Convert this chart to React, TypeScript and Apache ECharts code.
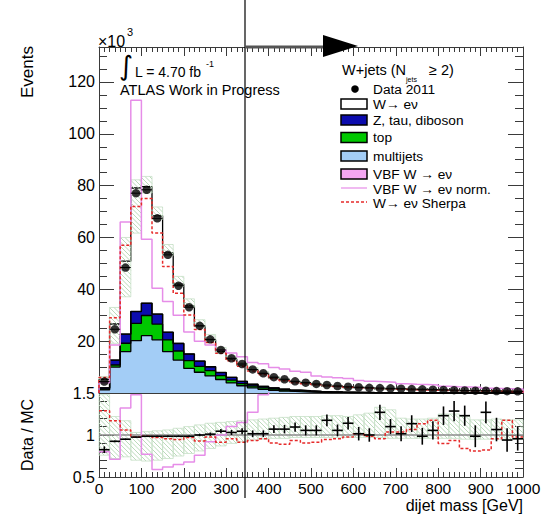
import React, { useEffect, useRef } from 'react';
import * as echarts from 'echarts';

// dijet mass binning: 25 GeV bins from 0 to 1000 GeV
const BIN_WIDTH = 25;

// events per bin, in units of 10^3
const dataEvents = [4.4, 24.6, 48.4, 77.1, 78.4, 67.4, 53.3, 41.4, 33.1, 25.9, 20.7, 16.6, 13.4, 11.2, 9.1, 7.6, 6.1, 5.3, 4.5, 4.0, 3.5, 3.1, 2.7, 2.4, 2.2, 2.0, 1.9, 1.8, 1.65, 1.5, 1.4, 1.3, 1.2, 1.1, 1.0, 0.9, 0.85, 0.75, 0.7, 0.65];
const wenu = [3.3, 13.9, 28.1, 47.6, 44.9, 37.9, 30.6, 22.9, 18.6, 13.6, 10.4, 8.0, 7.0, 6.2, 5.6, 5.0, 3.8, 3.45, 3.0, 2.9, 2.6, 2.1, 2.2, 1.8, 1.9, 1.8, 1.34, 1.5, 1.5, 1.23, 1.34, 1.16, 0.91, 0.81, 0.76, 0.86, 0.63, 0.66, 0.7, 0.64];
const zTauDiboson = [0.5, 1.9, 3.5, 4.5, 4.7, 3.8, 2.9, 2.9, 2.5, 2.0, 1.5, 1.2, 1.0, 0.8, 0.65, 0.5, 0.42, 0.35, 0.3, 0.25, 0.2, 0.17, 0.14, 0.12, 0.1, 0.09, 0.08, 0.07, 0.06, 0.05, 0.05, 0.04, 0.04, 0.03, 0.03, 0.03, 0.02, 0.02, 0.02, 0.02];
const topQuark = [0.3, 0.8, 3.2, 6.7, 7.8, 6.1, 4.5, 3.5, 3.0, 2.3, 2.0, 1.5, 1.1, 0.85, 0.7, 0.6, 0.5, 0.4, 0.3, 0.25, 0.2, 0.15, 0.12, 0.1, 0.08, 0.06, 0.05, 0.04, 0.03, 0.03, 0.02, 0.02, 0.02, 0.01, 0.01, 0.01, 0.01, 0.01, 0.01, 0.01];
const multijets = [1.2, 10.0, 16.0, 20.2, 22.1, 20.5, 16.0, 12.7, 9.5, 8.0, 6.6, 5.2, 3.9, 2.8, 2.0, 1.4, 1.0, 0.7, 0.5, 0.35, 0.25, 0.18, 0.12, 0.08, 0.05, 0.03, 0.02, 0.01, 0.01, 0, 0, 0, 0, 0, 0, 0, 0, 0, 0, 0];
const vbfWenu = [0.01, 0.02, 0.05, 0.09, 0.08, 0.06, 0.05, 0.04, 0.04, 0.03, 0.03, 0.03, 0.03, 0.02, 0.02, 0.02, 0.02, 0.02, 0.02, 0.02, 0.01, 0.01, 0.01, 0.01, 0.01, 0.01, 0.01, 0.01, 0.01, 0.01, 0.01, 0.01, 0.01, 0.01, 0.01, 0.01, 0.01, 0.01, 0.01, 0.01];
const vbfNorm = [4.0, 18.5, 66, 113, 59.3, 40.4, 35.3, 30.0, 23.5, 20.0, 18.5, 16.5, 15.4, 14.0, 11.8, 11.3, 9.8, 9.3, 8.4, 8.0, 6.6, 6.2, 5.9, 5.6, 4.8, 4.5, 4.3, 4.1, 3.6, 3.4, 3.3, 3.1, 2.6, 2.4, 2.3, 2.2, 1.8, 1.7, 1.6, 1.5];
const sherpa = [6, 29, 57, 72, 75, 61.7, 48.8, 38.5, 30.1, 24.5, 19.5, 15.3, 12.4, 10.3, 8.5, 7.1, 5.6, 4.7, 4.0, 3.6, 3.2, 2.8, 2.5, 2.2, 2.0, 1.8, 1.65, 1.5, 1.4, 1.3, 1.2, 1.1, 1.0, 0.95, 0.85, 0.8, 0.75, 0.7, 0.6, 0.55];
// MC uncertainty around the stack, relative to the stack total
const stackBandLow = [0.85, 0.72, 0.73, 0.78, 0.97, 0.98, 0.98, 0.98, 0.98, 0.98, 0.98, 0.98, 0.98, 0.98, 0.98, 0.98, 0.98, 0.98, 0.98, 0.98, 0.98, 0.98, 0.98, 0.98, 0.98, 0.98, 0.98, 0.98, 0.98, 0.98, 0.98, 0.98, 0.98, 0.98, 0.98, 0.98, 0.98, 0.98, 0.98, 0.98];
const stackBandHigh = [1.2, 1.24, 1.18, 1.04, 1.05, 1.05, 1.06, 1.07, 1.08, 1.09, 1.1, 1.1, 1.1, 1.1, 1.1, 1.1, 1.1, 1.1, 1.1, 1.1, 1.1, 1.1, 1.1, 1.1, 1.1, 1.1, 1.1, 1.1, 1.1, 1.1, 1.1, 1.1, 1.1, 1.1, 1.1, 1.1, 1.1, 1.1, 1.1, 1.1];

// lower panel: Data / MC
const ratioData = [0.825, 0.925, 0.95, 0.975, 0.985, 0.985, 0.985, 0.985, 0.985, 1.0, 1.01, 1.045, 1.03, 1.045, 1.015, 1.015, 1.07, 1.07, 1.095, 1.055, 1.055, 1.175, 1.055, 1.14, 1.015, 1.0, 1.27, 1.1, 1.015, 1.135, 0.985, 1.055, 1.23, 1.285, 1.23, 0.985, 1.27, 1.065, 0.94, 0.955];
const ratioErr = [0.04, 0.01, 0.008, 0.006, 0.006, 0.007, 0.008, 0.009, 0.01, 0.015, 0.02, 0.025, 0.03, 0.035, 0.04, 0.04, 0.045, 0.05, 0.055, 0.06, 0.06, 0.07, 0.07, 0.075, 0.08, 0.08, 0.09, 0.09, 0.09, 0.1, 0.1, 0.11, 0.11, 0.12, 0.12, 0.13, 0.13, 0.14, 0.14, 0.14];
const ratioSherpa = [1.29, 1.17, 1.06, 0.975, 0.985, 0.97, 0.955, 0.945, 0.97, 0.93, 0.975, 0.915, 0.955, 0.915, 0.935, 0.955, 0.905, 0.89, 0.935, 0.905, 0.915, 0.945, 0.955, 0.975, 1.015, 0.985, 0.955, 1.035, 1.035, 1.065, 1.135, 1.175, 0.9, 0.935, 0.84, 0.81, 0.82, 0.955, 1.175, 0.975];
const ratioVbfNorm = [0.8, 0.71, 1.32, 1.48, 0.77, 0.59, 0.62, 0.65, 0.68, 0.76, 0.92, 1.0, 1.1, 1.15, 1.27, 1.48, 1.72, 1.88, 2.05, 2.1, 2.0, 2.3, 2.3, 2.6, 2.2, 2.25, 2.9, 2.5, 2.2, 2.6, 2.3, 2.5, 2.6, 2.8, 2.8, 2.4, 2.7, 2.4, 2.2, 2.2];
const bandLow = [0.76, 0.72, 0.74, 0.7, 0.69, 0.7, 0.72, 0.75, 0.78, 0.81, 0.84, 0.87, 0.9, 0.92, 0.94, 0.95, 0.96, 0.96, 0.97, 0.97, 0.97, 0.97, 0.97, 0.97, 0.97, 0.97, 0.97, 0.96, 0.96, 0.96, 0.96, 0.96, 0.96, 0.96, 0.95, 0.95, 0.95, 0.95, 0.95, 0.95];
const bandHigh = [1.48, 1.22, 1.17, 1.03, 1.04, 1.05, 1.06, 1.08, 1.1, 1.12, 1.14, 1.15, 1.16, 1.17, 1.18, 1.19, 1.2, 1.21, 1.22, 1.22, 1.22, 1.23, 1.23, 1.22, 1.24, 1.26, 1.33, 1.3, 1.2, 1.19, 1.19, 1.2, 1.25, 1.25, 1.22, 1.18, 1.18, 1.19, 1.18, 1.18];

const N = dataEvents.length;
const edges = Array.from({ length: N + 1 }, (_, i) => i * BIN_WIDTH);

const FONT = '"Liberation Sans", Arial, Helvetica, sans-serif';
const AX = '#3a3a3a';
const C_MULTI = '#a3cdf6';
const C_TOP = '#00c800';
const C_Z = '#0c0cae';
const C_VBF = '#f4a6f2';
const C_VBF_LINE = '#e68de8';
const C_SHERPA = '#e62a2a';
const C_HATCH = '#b3d6b3';
const C_HATCH_EDGE = '#c6e0c6';

// stack cumulative tops, bottom to top
function cumulative(layers: number[][]): number[][] {
  const out: number[][] = [];
  let run = new Array(N).fill(0);
  for (const l of layers) {
    run = run.map((v, i) => v + l[i]);
    out.push(run);
  }
  return out;
}
const [cMulti, cTop, cZ, cVbf, cW] = cumulative([multijets, topQuark, zTauDiboson, vbfWenu, wenu]);

function histPoints(vals: number[], closed: boolean) {
  const pts: number[][] = [];
  if (closed) pts.push([edges[0], 0]);
  vals.forEach((v, i) => pts.push([edges[i], v]));
  pts.push([edges[N], vals[N - 1]]);
  if (closed) pts.push([edges[N], 0]);
  return pts;
}

function filledHist(name: string, vals: number[], color: string, z: number) {
  return {
    type: 'line', name, xAxisIndex: 0, yAxisIndex: 0, silent: true, z,
    data: histPoints(vals, true), step: 'end', symbol: 'none',
    lineStyle: { color: '#000', width: 1.3 },
    areaStyle: { color, opacity: 1 },
  };
}

function lineHist(name: string, vals: number[], xi: number, yi: number, color: string, width: number, dashed: boolean, closed: boolean, z: number) {
  return {
    type: 'line', name, xAxisIndex: xi, yAxisIndex: yi, silent: true, z,
    data: histPoints(vals, closed), step: 'end', symbol: 'none',
    lineStyle: { color, width, type: dashed ? [3, 2] : 'solid' },
  };
}

function hatchBand(xi: number, yi: number, lows: number[], highs: number[], z: number) {
  return {
    type: 'custom', xAxisIndex: xi, yAxisIndex: yi, silent: true, z,
    data: lows.map((lo, i) => [edges[i], edges[i + 1], lo, highs[i]]),
    encode: { x: [0, 1], y: [2, 3] },
    renderItem: (params: any, api: any) => {
      const a = api.coord([api.value(0), api.value(3)]);
      const b = api.coord([api.value(1), api.value(2)]);
      const cs = params.coordSys;
      const x0 = a[0];
      const x1 = b[0];
      const top = Math.max(Math.min(a[1], b[1]), cs.y);
      const bot = Math.min(Math.max(a[1], b[1]), cs.y + cs.height);
      const children: any[] = [];
      if (bot <= top) return { type: 'group', children };
      const S = 4.5;
      const cMin = x0 - bot;
      const cMax = x1 - top;
      for (let c = Math.ceil(cMin / S) * S; c <= cMax; c += S) {
        const xa = Math.max(x0, top + c);
        const xb = Math.min(x1, bot + c);
        if (xb > xa) {
          children.push({ type: 'line', shape: { x1: xa, y1: xa - c, x2: xb, y2: xb - c }, style: { stroke: C_HATCH, lineWidth: 0.9 } });
        }
      }
      children.push({ type: 'rect', shape: { x: x0, y: top, width: x1 - x0, height: bot - top }, style: { fill: 'none', stroke: C_HATCH_EDGE, lineWidth: 0.8 } });
      return { type: 'group', children };
    },
  };
}

function crosses(xi: number, yi: number, vals: number[], errs: number[], width: number, z: number) {
  return {
    type: 'custom', xAxisIndex: xi, yAxisIndex: yi, silent: true, z,
    data: vals.map((v, i) => [edges[i], edges[i + 1], v, errs[i]]),
    encode: { x: [0, 1], y: 2 },
    renderItem: (params: any, api: any) => {
      const lo = api.value(0);
      const hi = api.value(1);
      const v = api.value(2);
      const e = api.value(3);
      const mid = (lo + hi) / 2;
      const l = api.coord([lo, v]);
      const r = api.coord([hi, v]);
      const t = api.coord([mid, v + e]);
      const b = api.coord([mid, v - e]);
      const st = { stroke: '#000', lineWidth: width };
      return {
        type: 'group',
        children: [
          { type: 'line', shape: { x1: l[0], y1: l[1], x2: r[0], y2: r[1] }, style: st },
          { type: 'line', shape: { x1: t[0], y1: t[1], x2: b[0], y2: b[1] }, style: st },
        ],
      };
    },
  };
}

const mainBandLow = cW.map((v, i) => v * stackBandLow[i]);
const mainBandHigh = cW.map((v, i) => v * stackBandHigh[i]);
const dataStatErr = dataEvents.map(() => 0);

const tickStyle = { color: AX, width: 1 };
function xAxisDef(grid: number, position: string, labels: boolean) {
  return {
    type: 'value', gridIndex: grid, position, min: 0, max: 1000, interval: 100,
    axisLine: { show: true, onZero: false, lineStyle: { color: AX, width: 1 } },
    axisTick: { show: true, inside: true, length: 9, lineStyle: tickStyle },
    minorTick: { show: true, splitNumber: 8, length: 5, lineStyle: tickStyle },
    splitLine: { show: false },
    axisLabel: labels
      ? { show: true, fontSize: 15.5, color: '#000', fontFamily: FONT, margin: 3, formatter: (v: number) => String(v) }
      : { show: false },
  };
}
function yAxisDef(grid: number, position: string, min: number, max: number, interval: number, minorSplit: number, labels: boolean, showEnds: boolean) {
  return {
    type: 'value', gridIndex: grid, position, min, max, interval,
    axisLine: { show: true, onZero: false, lineStyle: { color: AX, width: 1 } },
    axisTick: { show: true, inside: true, length: 15, lineStyle: tickStyle },
    minorTick: { show: true, splitNumber: minorSplit, length: 8, lineStyle: tickStyle },
    splitLine: { show: false },
    axisLabel: labels
      ? { show: true, fontSize: 16, color: '#000', fontFamily: FONT, margin: 4, showMinLabel: showEnds, showMaxLabel: showEnds }
      : { show: false },
  };
}

function txt(text: string, x: number, y: number, size: number, align = 'left', extra: any = {}) {
  return {
    type: 'text', x, y, z: 100, silent: true,
    style: { text, fill: '#000', fontSize: size, fontFamily: FONT, align, verticalAlign: 'middle' },
    ...extra,
  };
}
function legendBox(y: number, color: string) {
  return { type: 'rect', z: 100, silent: true, shape: { x: 341, y: y - 5, width: 26, height: 10 }, style: { fill: color, stroke: '#000', lineWidth: 1.5 } };
}

const LX = 373; // legend text column
const option: any = {
  animation: false,
  backgroundColor: '#fff',
  grid: [
    { left: 99, top: 47, width: 424, height: 346 },
    { left: 99, top: 393, width: 424, height: 84 },
  ],
  xAxis: [
    xAxisDef(0, 'bottom', false),
    xAxisDef(0, 'top', false),
    xAxisDef(1, 'bottom', true),
  ],
  yAxis: [
    yAxisDef(0, 'left', 0, 133.5, 20, 4, true, false),
    yAxisDef(0, 'right', 0, 133.5, 20, 4, false, false),
    yAxisDef(1, 'left', 0.5, 1.5, 0.5, 5, true, true),
    yAxisDef(1, 'right', 0.5, 1.5, 0.5, 5, false, true),
  ],
  series: [
    filledHist('W→ eν', cW, '#ffffff', 2),
    filledHist('VBF W → eν', cVbf, C_VBF, 2),
    filledHist('Z, tau, diboson', cZ, C_Z, 2),
    filledHist('top', cTop, C_TOP, 2),
    filledHist('multijets', cMulti, C_MULTI, 2),
    hatchBand(0, 0, mainBandLow, mainBandHigh, 3),
    lineHist('VBF W → eν norm.', vbfNorm, 0, 0, C_VBF_LINE, 1.5, false, true, 4),
    lineHist('W→ eν Sherpa', sherpa, 0, 0, C_SHERPA, 1.5, true, true, 4),
    crosses(0, 0, dataEvents, dataStatErr, 1, 5),
    {
      type: 'scatter', name: 'Data 2011', xAxisIndex: 0, yAxisIndex: 0, silent: true, z: 6,
      symbol: 'circle', symbolSize: 8.5, itemStyle: { color: '#000' },
      data: dataEvents.map((v, i) => [edges[i] + BIN_WIDTH / 2, v]),
    },
    // ratio panel
    hatchBand(2, 2, bandLow, bandHigh, 3),
    {
      type: 'line', xAxisIndex: 2, yAxisIndex: 2, silent: true, z: 4, symbol: 'none',
      data: [[0, 1], [1000, 1]], lineStyle: { color: '#8c8c8c', width: 1.6 },
    },
    lineHist('VBF ratio', ratioVbfNorm, 2, 2, C_VBF_LINE, 1.5, false, false, 4),
    lineHist('Sherpa ratio', ratioSherpa, 2, 2, C_SHERPA, 1.5, true, false, 4),
    crosses(2, 2, ratioData, ratioErr, 1.6, 6),
  ],
  graphic: [
    // axis titles
    txt('Events', 27, 72, 17, 'center', { rotation: Math.PI / 2 }),
    txt('Data / MC', 27, 435, 16, 'center', { rotation: Math.PI / 2 }),
    txt('dijet mass [GeV]', 523, 505, 16, 'right'),
    txt('×10', 98, 41, 16),
    txt('3', 127, 32, 11),
    // luminosity and label
    { type: 'text', x: 126, y: 65, z: 100, silent: true, style: { text: '∫', fill: '#000', fontSize: 27, fontFamily: '"DejaVu Sans", sans-serif', align: 'center', verticalAlign: 'middle' } },
    txt('L = 4.70 fb', 135, 72, 14),
    txt('-1', 206, 64, 9),
    txt('ATLAS Work in Progress', 120, 89.5, 14.5),
    // legend
    txt('W+jets (N', 342, 70, 14.5),
    txt('jets', 406, 79, 7),
    txt('≥ 2)', 429, 70, 14.5),
    { type: 'circle', z: 100, silent: true, shape: { cx: 355, cy: 89, r: 3.8 }, style: { fill: '#000' } },
    txt('Data 2011', LX, 89, 13.7),
    legendBox(104, '#ffffff'),
    txt('W→ eν', LX, 104, 13.7),
    legendBox(120, C_Z),
    txt('Z, tau, diboson', LX, 120, 13.7),
    legendBox(137.5, C_TOP),
    txt('top', LX, 137.5, 13.7),
    legendBox(156, C_MULTI),
    txt('multijets', LX, 156, 13.7),
    legendBox(174, C_VBF),
    txt('VBF W → eν', LX, 174, 13.7),
    { type: 'line', z: 100, silent: true, shape: { x1: 341, y1: 188, x2: 367, y2: 188 }, style: { stroke: C_VBF_LINE, lineWidth: 1.2 } },
    txt('VBF W → eν norm.', LX, 189.5, 13.7),
    { type: 'line', z: 100, silent: true, shape: { x1: 341, y1: 202, x2: 367, y2: 202 }, style: { stroke: C_SHERPA, lineWidth: 1.5, lineDash: [3, 2] } },
    txt('W→ eν Sherpa', LX, 203.5, 13.7),
    // selection marker at 345 GeV
    { type: 'line', z: 110, silent: true, shape: { x1: 245, y1: 0, x2: 245, y2: 498 }, style: { stroke: '#000', lineWidth: 1.2 } },
    { type: 'line', z: 110, silent: true, shape: { x1: 245, y1: 47, x2: 327, y2: 47 }, style: { stroke: '#555', lineWidth: 3 } },
    { type: 'polygon', z: 110, silent: true, shape: { points: [[323, 35], [358, 46], [323, 57]] }, style: { fill: '#000' } },
  ],
};

export default function App() {
  const ref = useRef<HTMLDivElement>(null);
  useEffect(() => {
    const chart = echarts.init(ref.current as HTMLDivElement, undefined, { renderer: 'svg' });
    chart.setOption(option);
    return () => chart.dispose();
  }, []);
  return (
    <div
      ref={ref}
      style={{ position: 'absolute', left: 0, top: 0, width: 546, height: 514, background: '#fff' }}
    />
  );
}
